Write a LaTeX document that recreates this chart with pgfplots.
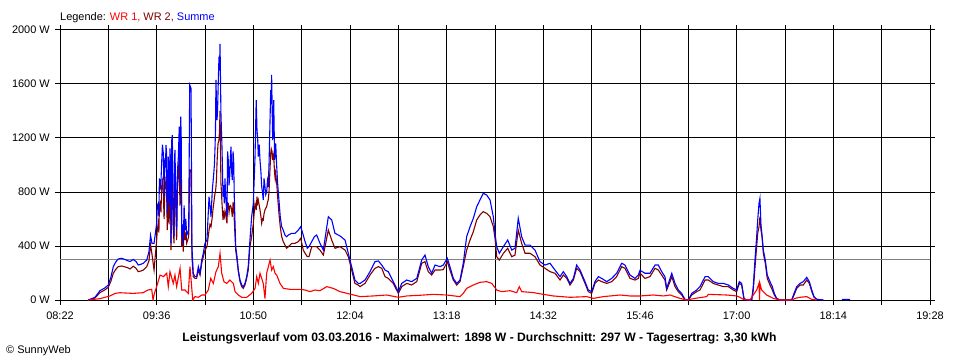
\documentclass[border=0pt]{standalone}
\usepackage{pgfplots}
\usepackage{pgfplotstable}
\pgfplotsset{compat=1.18}
\usepackage{fontspec}
\setmainfont{Liberation Sans}
\definecolor{wrred}{RGB}{255,0,0}
\definecolor{wrdark}{RGB}{128,0,0}
\definecolor{sblue}{RGB}{0,0,255}
\definecolor{avggray}{RGB}{128,128,128}

% t = minutes since midnight; summe, wr2 in W
\pgfplotstableread{
t summe wr2
523.7 0 0
528.8 20 15
532.6 69 55
536.4 90 75
539.0 111 95
541.0 170 140
542.8 247 198
544.9 285 230
546.6 304 247
549.2 309 252
551.8 300 245
554.1 290 238
555.6 285 230
558.1 300 250
560.2 285 235
561.9 259 210
564.0 265 215
565.8 272 222
568.4 296 247
570.1 358 290
571.3 480 410
572.4 420 340
574.0 420 222
576.0 568 444
576.5 700 520
577.2 716 568
577.7 620 500
578.1 900 700
578.6 815 716
579.3 880 650
579.8 1012 840
580.4 1150 880
581.1 1086 790
581.7 760 600
582.4 1050 864
582.8 980 820
583.1 1148 913
583.5 1100 880
584.1 642 518
584.9 1062 840
585.5 700 560
586.2 1123 889
586.6 1010 840
587.0 420 370
587.5 1180 870
588.0 1222 913
588.5 700 560
589.3 469 420
589.7 1050 880
590.0 1111 938
590.6 800 700
591.3 518 444
591.9 950 820
592.6 1062 913
593.3 1284 1111
593.8 860 700
594.4 1358 1062
594.8 1200 1000
595.2 469 395
595.7 560 480
596.4 420 358
597.0 700 560
597.7 518 444
598.3 600 500
599.0 480 420
600.5 518 469
601.3 1593 963
602.3 1568 963
603.0 395 321
604.0 198 173
605.3 173 160
606.6 173 160
607.9 247 222
609.2 198 185
610.5 296 272
611.7 346 320
613.0 420 370
614.5 444 395
616.1 765 518
616.8 700 560
617.6 617 543
618.6 815 617
619.2 880 680
619.7 938 716
620.2 1000 760
620.7 1136 790
621.0 1250 800
621.4 1630 840
621.8 1450 900
622.2 1333 1012
622.6 1400 1100
623.0 1555 1160
623.7 1802 1185
624.1 1700 1250
624.5 1898 1400
625.2 1383 864
625.6 1250 800
626.0 1136 716
626.8 765 593
627.3 850 640
627.8 716 617
628.3 900 660
628.8 765 642
629.3 700 600
629.8 617 568
630.3 1100 720
630.8 1037 716
631.4 850 650
631.9 913 691
632.4 1050 700
632.9 1136 691
633.4 950 660
633.9 889 617
634.5 1100 720
635.0 1012 716
635.4 765 593
636.5 395 370
637.5 321 296
638.5 222 210
639.8 148 136
641.1 111 99
642.3 99 86
643.6 123 111
644.9 173 160
646.1 247 222
647.4 444 395
648.7 617 469
650.0 716 568
651.3 1062 716
651.8 1300 700
652.2 1481 667
652.8 1259 765
653.3 1200 720
653.8 1062 741
654.5 1150 700
655.1 1037 667
655.8 950 620
656.4 839 568
657.0 800 600
657.6 741 593
658.2 900 640
658.9 839 667
659.5 780 680
660.2 800 691
660.8 880 720
661.4 839 741
662.0 1000 800
662.5 1210 913
663.3 1555 1086
663.7 1450 1120
664.0 1667 1110
664.8 1185 1037
665.2 1350 1080
665.6 1481 1060
666.3 1037 938
666.7 1100 900
667.1 1160 938
667.9 988 864
668.6 864 765
669.6 741 642
670.6 617 543
671.7 543 469
672.9 518 432
674.2 481 407
675.5 469 383
676.8 481 395
679.4 494 420
681.9 494 420
684.4 518 432
686.3 543 457
688.2 481 370
689.6 432 346
691.3 383 321
692.6 395 321
694.7 432 395
696.7 469 395
698.5 481 395
701.0 420 370
703.6 370 333
705.6 500 430
707.4 617 518
710.0 593 444
712.5 494 383
716.3 475 395
720.2 444 370
722.7 346 321
724.0 296 272
726.5 198 173
727.8 148 123
730.3 123 111
731.7 123 99
735.5 148 123
739.3 210 185
743.1 284 235
745.7 289 247
748.3 259 235
750.8 222 173
753.3 210 160
757.1 136 123
761.0 62 49
763.6 123 99
767.4 148 123
771.2 136 111
775.1 160 136
778.9 296 272
781.4 333 284
783.9 247 210
786.5 198 185
789.1 259 222
792.9 247 222
795.4 259 225
798.5 309 284
800.5 247 222
803.1 160 148
805.7 123 111
808.2 148 136
810.7 272 247
813.3 469 370
815.9 543 444
818.4 605 506
821.0 691 593
823.5 741 630
826.0 790 654
828.6 778 642
831.2 741 617
833.7 617 543
835.0 494 457
836.3 395 321
838.3 346 296
841.4 395 346
844.7 444 383
847.8 370 321
850.3 383 333
852.8 605 518
855.4 469 420
858.0 407 346
861.8 407 346
865.6 370 321
869.4 284 259
873.3 259 235
877.1 272 210
880.9 222 198
884.8 173 148
887.3 210 185
889.9 173 160
892.4 123 111
895.0 160 148
897.5 259 235
900.1 222 210
903.9 136 123
906.4 74 62
909.0 62 49
911.5 136 123
914.1 173 148
916.7 160 136
920.5 136 123
924.3 160 136
928.1 198 173
932.0 272 247
934.5 259 235
938.3 185 160
942.2 160 148
944.7 185 160
946.0 220 200
949.8 198 160
953.6 198 173
957.5 259 235
960.0 259 222
962.6 210 185
965.1 173 148
966.4 86 74
969.0 160 136
970.3 198 173
972.8 123 99
975.3 74 62
977.9 49 37
980.4 5 0
983.0 0 0
985.6 49 37
989.4 74 62
991.9 99 74
995.8 173 148
998.3 173 148
1002.1 136 123
1005.9 123 111
1009.8 123 99
1013.6 111 99
1017.4 86 74
1020.0 74 62
1022.0 136 123
1023.8 123 111
1025.6 12 5
1027.7 0 0
1031.5 0 0
1032.7 99 74
1034.0 296 240
1035.3 469 395
1036.1 593 494
1037.1 716 543
1037.8 753 617
1038.6 556 518
1039.4 481 469
1040.4 370 346
1041.9 296 272
1043.4 185 160
1045.5 136 111
1047.3 99 74
1048.8 49 37
1050.6 12 10
1053.2 0 0
1062.1 0 0
1063.9 49 37
1066.0 99 86
1068.5 123 111
1071.0 136 111
1073.6 168 148
1075.6 136 123
1077.5 74 62
1079.2 25 20
1081.3 5 5
1086.3 0 0
nan nan nan
1100.6 5 nan
1106.8 5 nan
}\sumtable

% WR 1 in W
\pgfplotstableread{
t wr1
523.7 0
532.6 10
540.3 30
544.1 49
547.9 54
557.9 49
565.5 54
569.4 74
572.2 79
573.2 0
574.3 50
576.0 99
578.6 185
581.1 173
583.7 198
584.9 99
586.2 210
588.7 123
590.0 185
591.3 99
593.9 235
595.2 74
597.7 74
600.2 49
601.5 247
602.6 120
603.6 0
605.3 25
607.9 20
610.5 37
613.0 37
615.5 74
617.4 160
619.4 123
621.4 210
623.2 247
624.5 346
625.8 198
627.5 136
629.6 123
632.1 148
634.7 123
636.0 62
638.5 37
641.1 20
644.9 20
648.7 49
651.3 86
652.6 173
653.8 123
655.1 198
657.6 123
658.9 10
660.2 198
662.8 296
664.0 222
665.3 247
666.6 198
667.9 185
670.4 123
673.0 86
678.1 79
685.7 79
689.6 74
693.4 62
697.2 74
701.0 69
706.2 99
711.2 86
716.3 62
724.0 44
731.7 25
741.8 30
752.1 37
761.0 20
767.4 30
777.6 35
787.8 42
798.0 37
808.2 25
810.7 49
813.3 86
818.4 111
823.5 131
828.6 136
832.5 123
836.3 74
840.1 62
846.5 69
851.6 54
853.6 99
855.4 62
864.3 55
870.7 44
879.6 30
892.4 20
905.2 25
910.2 12
917.9 25
930.7 37
938.3 30
946.0 30
956.2 37
963.9 30
969.0 37
976.6 12
981.7 0
988.1 12
997.0 25
998.3 42
1012.4 37
1020.0 30
1022.5 20
1025.1 5
1030.2 0
1032.7 37
1035.3 74
1037.1 123
1037.5 0
1037.8 123
1039.1 74
1042.9 37
1048.0 12
1053.2 0
1062.4 0
1064.6 12
1068.5 20
1073.6 25
1077.5 5
1081.3 0
}\wrtable

\begin{document}
\begin{tikzpicture}[x=1bp,y=1bp]
\path[use as bounding box] (0,0) rectangle (960,360);
\begin{axis}[
  at={(60bp,60bp)}, anchor=south west,
  width=870bp, height=270bp, scale only axis,
  xmin=502, xmax=1168, ymin=0, ymax=2000,
  xtick={502,539,576,613,650,687,724,761,798,835,872,909,946,983,1020,1057,1094,1131,1168},
  xticklabels={08:22,,09:36,,10:50,,12:04,,13:18,,14:32,,15:46,,17:00,,18:14,,19:28},
  ytick={0,400,800,1200,1600,2000},
  yticklabels={0 W,400 W,800 W,1200 W,1600 W,2000 W},
  grid=major,
  major grid style={black, line width=1bp},
  axis line style={black, line width=1bp},
  tick align=outside, major tick length=5bp,
  tick style={black, line width=1bp},
  tick label style={font=\fontsize{11}{13}\selectfont, text=black},
  yticklabel style={inner sep=0pt, xshift=-5bp},
  xticklabel style={inner sep=0pt, yshift=-7bp},
  unbounded coords=jump,
]
\addplot[avggray, line width=1bp] coordinates {(502,297) (1168,297)};
\addplot[wrdark, line width=1.1bp] table[x=t, y=wr2] {\sumtable};
\addplot[sblue, line width=1.1bp] table[x=t, y=summe] {\sumtable};
\addplot[wrred, line width=1.1bp] table[x=t, y=wr1] {\wrtable};
\end{axis}
\node[anchor=base west, inner sep=0pt, font=\fontsize{11}{13}\selectfont] at (60,340)
  {Legende: \textcolor{wrred}{WR 1,} \textcolor{wrdark}{WR 2,} \textcolor{sblue}{Summe}};
\node[anchor=base, inner sep=0pt, font=\bfseries\fontsize{12.2}{14}\selectfont] at (479.5,19)
  {Leistungsverlauf vom 03.03.2016 - Maximalwert: 1898 W - Durchschnitt: 297 W - Tagesertrag: 3,30 kWh};
\node[anchor=base west, inner sep=0pt, font=\fontsize{11}{13}\selectfont] at (6,7) {© SunnyWeb};
\end{tikzpicture}
\end{document}
